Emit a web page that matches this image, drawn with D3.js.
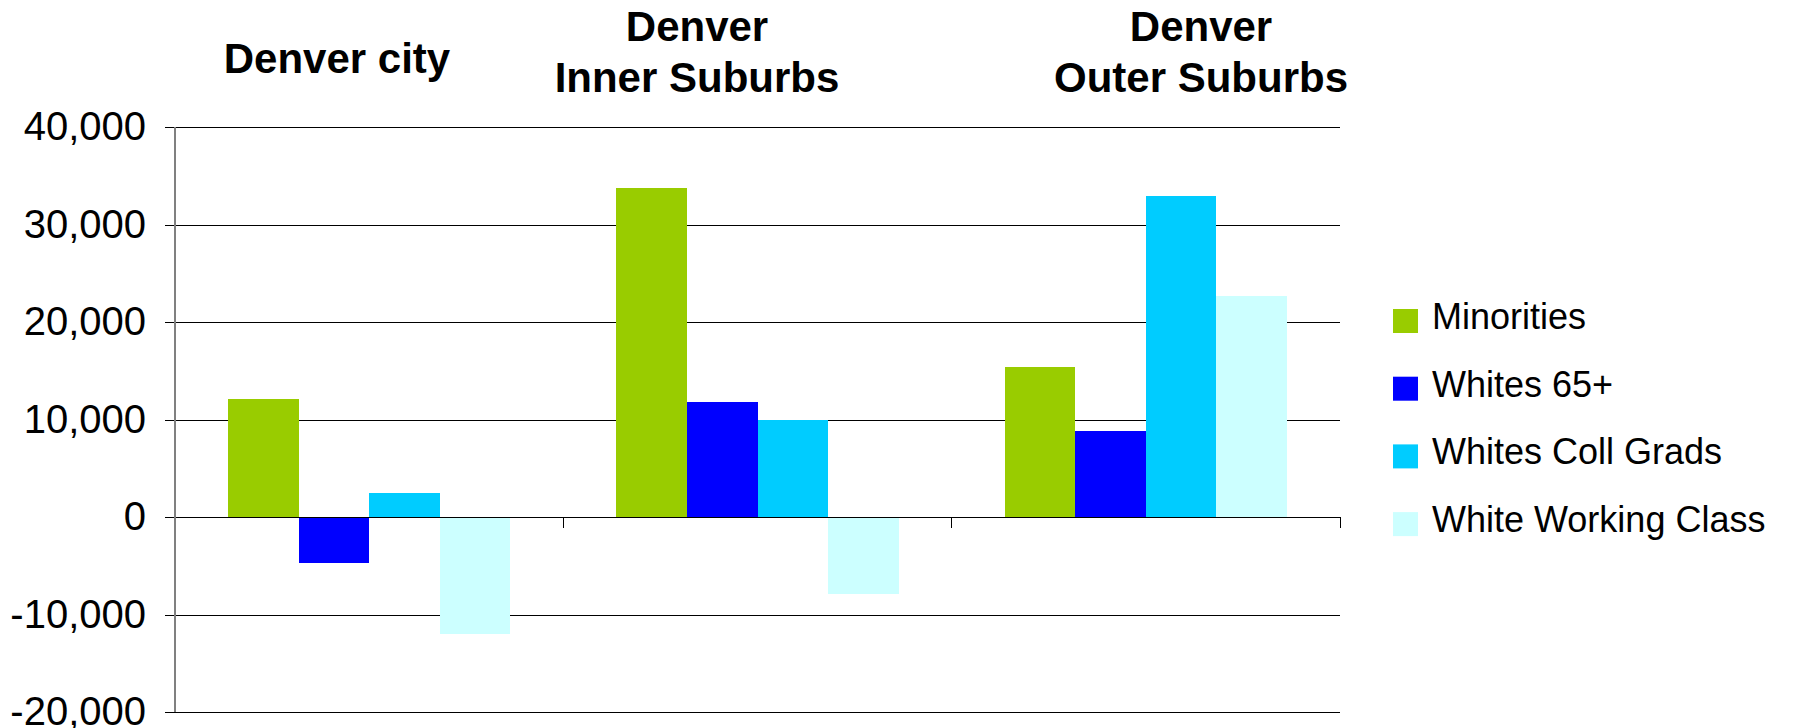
<!DOCTYPE html>
<html>
<head>
<meta charset="utf-8">
<script src="https://cdn.jsdelivr.net/npm/d3@7"></script>
<style>
  html, body { margin: 0; padding: 0; background: #fff; }
  svg { display: block; font-family: "Liberation Sans", Arial, sans-serif; }
</style>
</head>
<body>
<div id="chart"></div>
<script>
// --- Data ---
const categories = ["Denver city", "Denver Inner Suburbs", "Denver Outer Suburbs"];
const series = ["Minorities", "Whites 65+", "Whites Coll Grads", "White Working Class"];
const minorities = [12100, 33700, 15400];
const whites65 = [-4700, 11800, 8850];
const collGrads = [2500, 10000, 32900];
const workingClass = [-12000, -7900, 22700];
const yTicks = [-20000, -10000, 0, 10000, 20000, 30000, 40000];
const titleLines = [["Denver city"], ["Denver", "Inner Suburbs"], ["Denver", "Outer Suburbs"]];

const colors = ["#99cc00", "#0000ff", "#00ccff", "#ccffff"];
const values = [minorities, whites65, collGrads, workingClass];

// --- Layout ---
const W = 1802, H = 728;
const plot = { left: 175, right: 1340, top: 127, bottom: 712 };

const svg = d3.select("#chart").append("svg")
  .attr("width", W)
  .attr("height", H);

// --- Scales ---
const x = d3.scaleBand()
  .domain(categories)
  .range([plot.left, plot.right])
  .padding(0);

const xInner = d3.scaleBand()
  .domain(series)
  .range([0, x.bandwidth()])
  .paddingInner(0)
  .paddingOuter(0.75); // Excel gap width 150%

const y = d3.scaleLinear()
  .domain([-20000, 40000])
  .range([plot.bottom, plot.top]);

// --- Gridlines + value axis ---
const fmt = d3.format(",");
const yAxis = d3.axisLeft(y)
  .tickValues(yTicks)
  .tickSize(-(plot.right - plot.left))
  .tickPadding(29)
  .tickFormat(d => fmt(d).replace("\u2212", "-")); // plain hyphen like the original

const yg = svg.append("g")
  .attr("transform", `translate(${plot.left},0)`)
  .call(yAxis);
yg.select(".domain").remove();
yg.selectAll(".tick line")
  .attr("stroke", "#000")
  .attr("stroke-width", 1)
  .attr("x1", -10)
  .attr("shape-rendering", "crispEdges");
yg.selectAll(".tick text")
  .attr("font-size", 40)
  .attr("fill", "#000")
  .attr("font-family", "Liberation Sans, Arial, sans-serif");

// --- Bars ---
const barData = [];
categories.forEach((c, i) => {
  series.forEach((s, j) => {
    barData.push({ cat: c, ser: s, value: values[j][i], color: colors[j] });
  });
});

svg.append("g").selectAll("rect")
  .data(barData)
  .enter()
  .append("rect")
  .attr("x", d => x(d.cat) + xInner(d.ser))
  .attr("width", xInner.bandwidth())
  .attr("y", d => y(Math.max(0, d.value)))
  .attr("height", d => Math.abs(y(d.value) - y(0)))
  .attr("fill", d => d.color)
  .attr("shape-rendering", "crispEdges");

// --- Category axis along zero ---
const xAxisG = svg.append("g").attr("shape-rendering", "crispEdges");
xAxisG.append("line")
  .attr("x1", plot.left).attr("x2", plot.right)
  .attr("y1", y(0)).attr("y2", y(0))
  .attr("stroke", "#000");
const boundaries = categories.map(c => x(c)).concat([x.range()[1]]);
xAxisG.selectAll(".cat-tick")
  .data(boundaries)
  .enter()
  .append("line")
  .attr("class", "cat-tick")
  .attr("x1", d => d).attr("x2", d => d)
  .attr("y1", y(0)).attr("y2", y(0) + 11)
  .attr("stroke", "#000");

// vertical axis line
svg.append("line")
  .attr("x1", plot.left).attr("x2", plot.left)
  .attr("y1", plot.top).attr("y2", plot.bottom)
  .attr("stroke", "#808080")
  .attr("stroke-width", 2);

// --- Category titles (separate text boxes above the plot) ---
const titleX = [337, 697, 1201];
titleLines.forEach((lines, i) => {
  const t = svg.append("text")
    .attr("text-anchor", "middle")
    .attr("font-weight", "bold")
    .attr("font-size", 42)
    .attr("fill", "#000");
  const firstY = lines.length === 1 ? 73 : 41;
  lines.forEach((ln, k) => {
    t.append("tspan")
      .attr("x", titleX[i])
      .attr("y", firstY + k * 51)
      .text(ln);
  });
});

// --- Legend ---
const legend = svg.append("g").attr("transform", "translate(1393,321)");
series.forEach((s, i) => {
  const row = legend.append("g").attr("transform", `translate(0,${i * 67.7})`);
  row.append("rect")
    .attr("x", 0).attr("y", -12)
    .attr("width", 25).attr("height", 24)
    .attr("fill", colors[i]);
  row.append("text")
    .attr("x", 39)
    .attr("y", 8)
    .attr("font-size", 36)
    .attr("fill", "#000")
    .text(s);
});
</script>
</body>
</html>
